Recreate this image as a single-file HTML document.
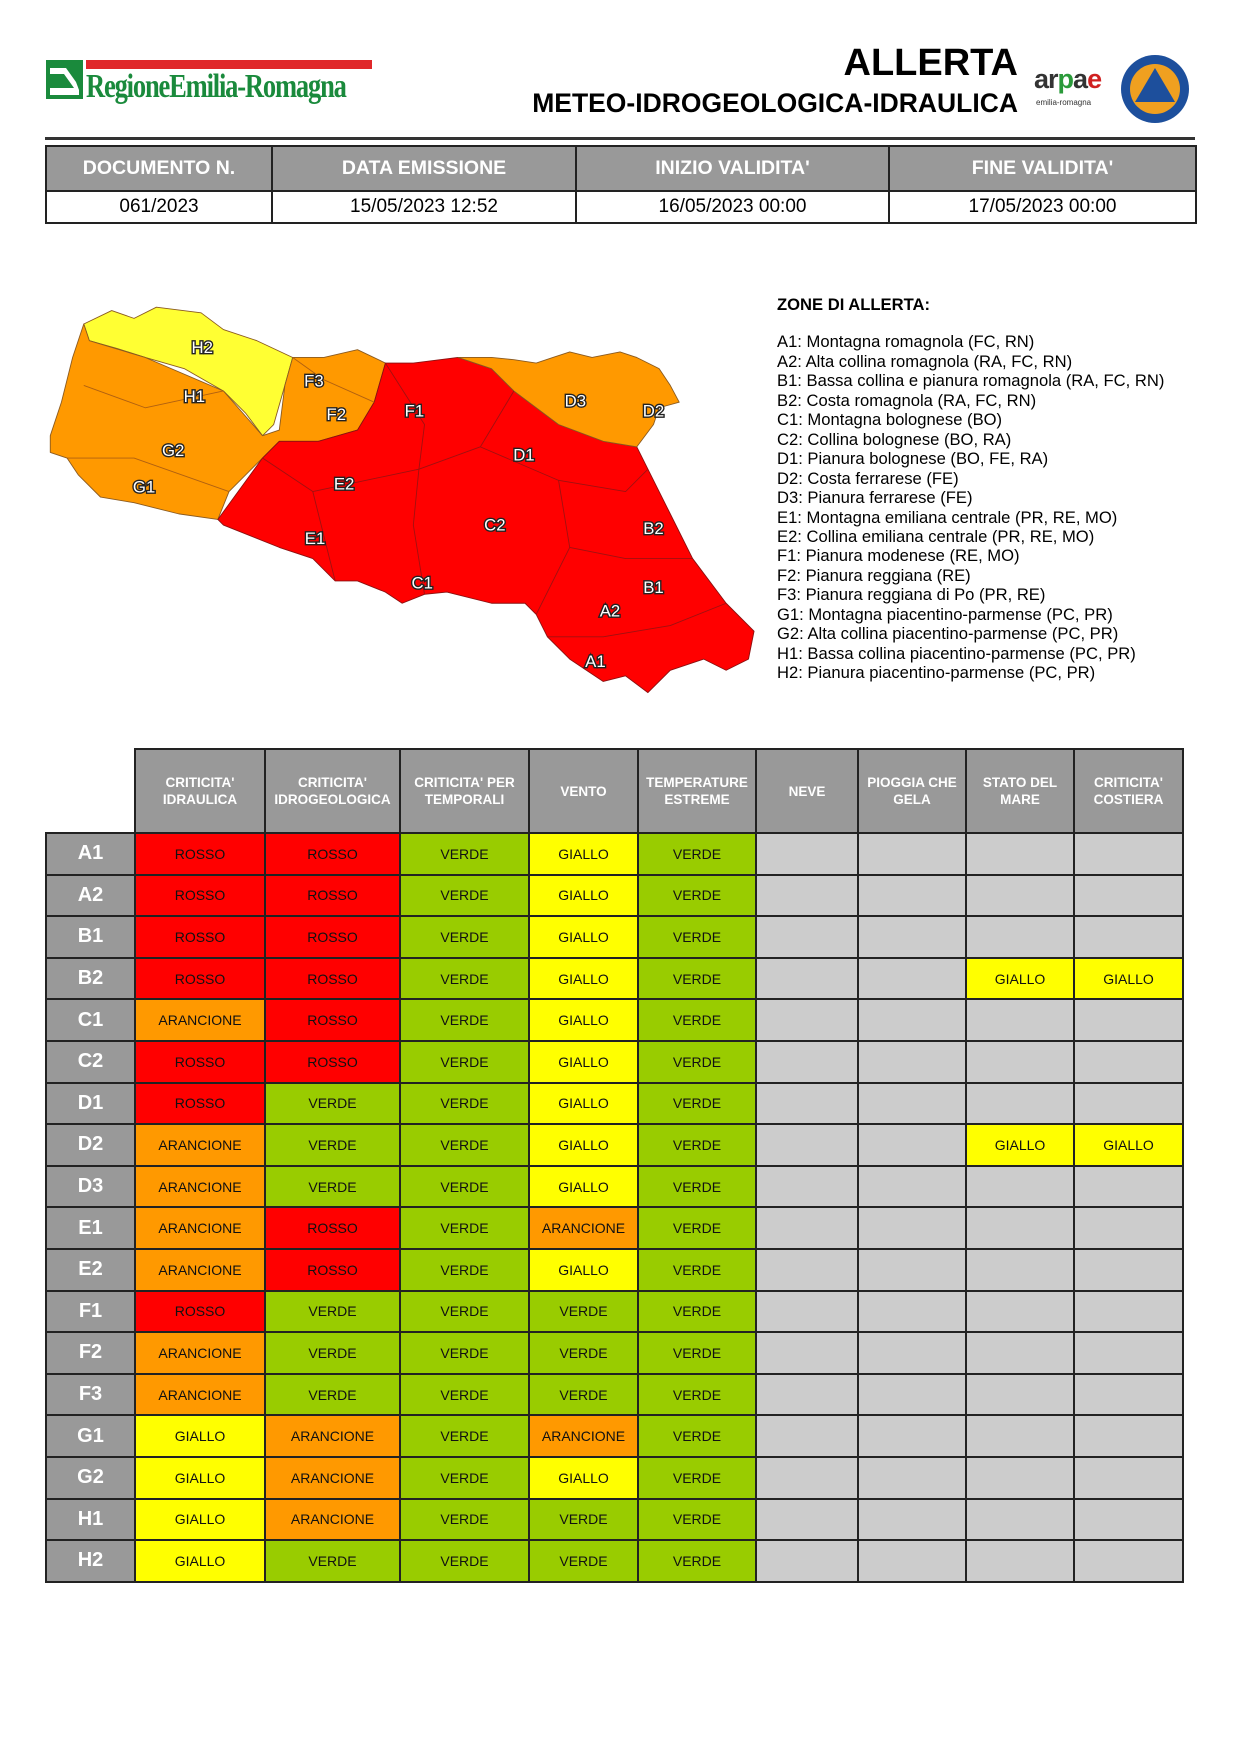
<!DOCTYPE html>
<html><head><meta charset="utf-8">
<style>
*{margin:0;padding:0;box-sizing:border-box}
body{width:1240px;height:1755px;background:#fff;position:relative;font-family:"Liberation Sans",Arial,sans-serif;overflow:hidden}
.abs{position:absolute}
table{border-collapse:collapse;table-layout:fixed}
#ht{left:45px;top:145px;width:1150px}
#ht td{border:2px solid #222;text-align:center}
#ht .h td{background:#999;color:#fff;font-weight:bold;font-size:19.5px;height:45px}
#ht .d td{font-size:19px;height:32px;color:#000}
#mt{left:45px;top:748px;width:1137px}
#mt td{border:2px solid #222;text-align:center;font-size:14px;color:#111}
#mt tr.h td{background:#999;color:#fff;font-weight:bold;font-size:13.5px;height:84px;line-height:17px}
#mt tr.h td.e{background:#fff;border-left:none;border-top:none}
#mt tr.r td{height:41.6px}
#mt td.l{background:#999;color:#fff;font-weight:bold;font-size:20px}
.R{background:#ff0000}.O{background:#ff9900}.V{background:#99cc00}.G{background:#ffff00}.X{background:#ccc}
#zones{left:777px;top:295px;font-size:16.6px;line-height:19.45px;color:#000}
</style></head><body>
<!-- logo -->
<div class="abs" style="left:46px;top:60px;width:37px;height:39px;background:#1a8a3c"></div>
<svg class="abs" style="left:46px;top:60px" width="37" height="39"><path d="M4 8 L20 8 L30 22 L33 30 L33 35 L4 35 Z" fill="#fff"/><path d="M4 14 L18 14 L28 28 L4 28Z" fill="#1a8a3c"/></svg>
<div class="abs" style="left:86px;top:60px;width:286px;height:9px;background:#e0282a"></div>
<div class="abs" style="left:86px;top:68px;font-family:'Liberation Serif',serif;font-size:34px;font-weight:bold;color:#1a8a3c;letter-spacing:-1.5px;transform:scaleX(0.78);transform-origin:left;white-space:nowrap">RegioneEmilia-Romagna</div>
<!-- title -->
<div class="abs" style="right:222px;top:42px;font-size:38px;font-weight:bold;color:#000">ALLERTA</div>
<div class="abs" style="right:222px;top:88px;font-size:26.5px;font-weight:bold;color:#000">METEO-IDROGEOLOGICA-IDRAULICA</div>
<div class="abs" style="left:1034px;top:64px;font-size:27px;font-weight:bold;color:#333;letter-spacing:-1px">ar<span style="color:#2a9a3a">p</span>a<span style="color:#d02020">e</span></div>
<div class="abs" style="left:1036px;top:98px;font-size:8px;color:#333">emilia-romagna</div>
<svg class="abs" style="left:1120px;top:54px" width="70" height="70"><circle cx="35" cy="35" r="34" fill="#1d4f9c"/><circle cx="35" cy="35" r="25" fill="#f0a020"/><polygon points="35,14 55,48 15,48" fill="#1d4f9c"/></svg>
<div class="abs" style="left:45px;top:137px;width:1150px;height:3px;background:#333"></div>
<table id="ht" class="abs">
<colgroup><col style="width:226px"><col style="width:304px"><col style="width:313px"><col style="width:307px"></colgroup>
<tr class="h"><td>DOCUMENTO N.</td><td>DATA EMISSIONE</td><td>INIZIO VALIDITA'</td><td>FINE VALIDITA'</td></tr>
<tr class="d"><td>061/2023</td><td>15/05/2023 12:52</td><td>16/05/2023 00:00</td><td>17/05/2023 00:00</td></tr>
</table>
<!-- map -->
<svg class="abs" style="left:0;top:0" width="1240" height="1755" viewBox="0 0 1110 1571">
<g stroke="#8a5a20" stroke-width="0.8" stroke-linejoin="round">
<polygon fill="#ffff33" points="75,290 100,278 120,285 140,275 180,280 200,295 230,305 262,320 255,345 245,380 235,390 220,370 200,350 165,330 130,320 105,312 80,305"/>
<polygon fill="#ff9900" points="45,390 55,360 65,320 75,290 80,305 130,320 200,350 235,390 250,385 255,345 262,320 290,320 320,313 345,325 335,360 320,385 285,395 250,395 235,410 205,440 195,465 160,460 120,450 90,445 70,425 60,410 45,405"/>
<polygon fill="#ff0000" stroke="#8a1010" points="195,465 235,410 250,395 285,395 320,385 335,360 345,325 370,325 410,320 440,330 460,350 500,380 540,395 570,400 580,420 600,460 620,500 650,540 675,565 670,590 650,600 630,590 600,600 580,620 560,605 540,610 510,590 490,570 480,550 470,540 440,540 400,530 380,532 360,540 345,530 320,520 300,520 280,500 250,490 225,480 200,470"/>
<polygon fill="#ff9900" points="410,320 440,330 460,350 500,380 540,395 570,400 585,380 590,365 608,360 600,345 590,330 570,320 555,315 530,320 510,315 495,320 480,325 460,322 440,320"/>
<polyline fill="none" stroke="#a01010" points="345,325 380,380 375,420 370,470 380,532"/>
<polyline fill="none" stroke="#a01010" points="375,420 430,400 460,350"/>
<polyline fill="none" stroke="#a01010" points="430,400 500,430 560,440 580,420"/>
<polyline fill="none" stroke="#a01010" points="500,430 510,490 560,500 620,500"/>
<polyline fill="none" stroke="#a01010" points="510,490 480,550"/>
<polyline fill="none" stroke="#a01010" points="490,570 540,570 600,560 650,540"/>
<polyline fill="none" stroke="#a01010" points="235,410 280,440 300,520"/>
<polyline fill="none" stroke="#a01010" points="280,440 375,420"/>
<polyline fill="none" stroke="#b06010" points="75,345 130,365 200,350"/>
<polyline fill="none" stroke="#b06010" points="60,410 120,410 205,440"/>
<polyline fill="none" stroke="#b06010" points="262,320 290,340 335,360"/>
</g>
<g font-family="Liberation Sans,Arial,sans-serif" font-size="15" fill="#fff" stroke="#222" stroke-width="2.5" paint-order="stroke" text-anchor="middle">
<text x="181" y="316">H2</text><text x="174" y="360">H1</text><text x="155" y="408">G2</text><text x="129" y="441">G1</text>
<text x="281" y="346">F3</text><text x="301" y="376">F2</text><text x="371" y="373">F1</text><text x="308" y="438">E2</text>
<text x="282" y="487">E1</text><text x="378" y="527">C1</text><text x="443" y="475">C2</text><text x="469" y="412">D1</text>
<text x="515" y="364">D3</text><text x="585" y="373">D2</text><text x="585" y="478">B2</text><text x="585" y="531">B1</text>
<text x="546" y="552">A2</text><text x="533" y="597">A1</text>
</g>
</svg>
<div id="zones" class="abs">
<div style="font-weight:bold;margin-bottom:18px">ZONE DI ALLERTA:</div>
<div>A1: Montagna romagnola (FC, RN)</div>
<div>A2: Alta collina romagnola (RA, FC, RN)</div>
<div>B1: Bassa collina e pianura romagnola (RA, FC, RN)</div>
<div>B2: Costa romagnola (RA, FC, RN)</div>
<div>C1: Montagna bolognese (BO)</div>
<div>C2: Collina bolognese (BO, RA)</div>
<div>D1: Pianura bolognese (BO, FE, RA)</div>
<div>D2: Costa ferrarese (FE)</div>
<div>D3: Pianura ferrarese (FE)</div>
<div>E1: Montagna emiliana centrale (PR, RE, MO)</div>
<div>E2: Collina emiliana centrale (PR, RE, MO)</div>
<div>F1: Pianura modenese (RE, MO)</div>
<div>F2: Pianura reggiana (RE)</div>
<div>F3: Pianura reggiana di Po (PR, RE)</div>
<div>G1: Montagna piacentino-parmense (PC, PR)</div>
<div>G2: Alta collina piacentino-parmense (PC, PR)</div>
<div>H1: Bassa collina piacentino-parmense (PC, PR)</div>
<div>H2: Pianura piacentino-parmense (PC, PR)</div>
</div>
<table id="mt" class="abs">
<colgroup><col style="width:89px"><col style="width:130px"><col style="width:135px"><col style="width:129px"><col style="width:109px"><col style="width:118px"><col style="width:102px"><col style="width:108px"><col style="width:108px"><col style="width:109px"></colgroup>
<tr class="h"><td class="e"></td><td>CRITICITA'<br>IDRAULICA</td><td>CRITICITA'<br>IDROGEOLOGICA</td><td>CRITICITA' PER<br>TEMPORALI</td><td>VENTO</td><td>TEMPERATURE<br>ESTREME</td><td>NEVE</td><td>PIOGGIA CHE<br>GELA</td><td>STATO DEL<br>MARE</td><td>CRITICITA'<br>COSTIERA</td></tr>
<tr class="r"><td class="l">A1</td><td class="R">ROSSO</td><td class="R">ROSSO</td><td class="V">VERDE</td><td class="G">GIALLO</td><td class="V">VERDE</td><td class="X"></td><td class="X"></td><td class="X"></td><td class="X"></td></tr>
<tr class="r"><td class="l">A2</td><td class="R">ROSSO</td><td class="R">ROSSO</td><td class="V">VERDE</td><td class="G">GIALLO</td><td class="V">VERDE</td><td class="X"></td><td class="X"></td><td class="X"></td><td class="X"></td></tr>
<tr class="r"><td class="l">B1</td><td class="R">ROSSO</td><td class="R">ROSSO</td><td class="V">VERDE</td><td class="G">GIALLO</td><td class="V">VERDE</td><td class="X"></td><td class="X"></td><td class="X"></td><td class="X"></td></tr>
<tr class="r"><td class="l">B2</td><td class="R">ROSSO</td><td class="R">ROSSO</td><td class="V">VERDE</td><td class="G">GIALLO</td><td class="V">VERDE</td><td class="X"></td><td class="X"></td><td class="G">GIALLO</td><td class="G">GIALLO</td></tr>
<tr class="r"><td class="l">C1</td><td class="O">ARANCIONE</td><td class="R">ROSSO</td><td class="V">VERDE</td><td class="G">GIALLO</td><td class="V">VERDE</td><td class="X"></td><td class="X"></td><td class="X"></td><td class="X"></td></tr>
<tr class="r"><td class="l">C2</td><td class="R">ROSSO</td><td class="R">ROSSO</td><td class="V">VERDE</td><td class="G">GIALLO</td><td class="V">VERDE</td><td class="X"></td><td class="X"></td><td class="X"></td><td class="X"></td></tr>
<tr class="r"><td class="l">D1</td><td class="R">ROSSO</td><td class="V">VERDE</td><td class="V">VERDE</td><td class="G">GIALLO</td><td class="V">VERDE</td><td class="X"></td><td class="X"></td><td class="X"></td><td class="X"></td></tr>
<tr class="r"><td class="l">D2</td><td class="O">ARANCIONE</td><td class="V">VERDE</td><td class="V">VERDE</td><td class="G">GIALLO</td><td class="V">VERDE</td><td class="X"></td><td class="X"></td><td class="G">GIALLO</td><td class="G">GIALLO</td></tr>
<tr class="r"><td class="l">D3</td><td class="O">ARANCIONE</td><td class="V">VERDE</td><td class="V">VERDE</td><td class="G">GIALLO</td><td class="V">VERDE</td><td class="X"></td><td class="X"></td><td class="X"></td><td class="X"></td></tr>
<tr class="r"><td class="l">E1</td><td class="O">ARANCIONE</td><td class="R">ROSSO</td><td class="V">VERDE</td><td class="O">ARANCIONE</td><td class="V">VERDE</td><td class="X"></td><td class="X"></td><td class="X"></td><td class="X"></td></tr>
<tr class="r"><td class="l">E2</td><td class="O">ARANCIONE</td><td class="R">ROSSO</td><td class="V">VERDE</td><td class="G">GIALLO</td><td class="V">VERDE</td><td class="X"></td><td class="X"></td><td class="X"></td><td class="X"></td></tr>
<tr class="r"><td class="l">F1</td><td class="R">ROSSO</td><td class="V">VERDE</td><td class="V">VERDE</td><td class="V">VERDE</td><td class="V">VERDE</td><td class="X"></td><td class="X"></td><td class="X"></td><td class="X"></td></tr>
<tr class="r"><td class="l">F2</td><td class="O">ARANCIONE</td><td class="V">VERDE</td><td class="V">VERDE</td><td class="V">VERDE</td><td class="V">VERDE</td><td class="X"></td><td class="X"></td><td class="X"></td><td class="X"></td></tr>
<tr class="r"><td class="l">F3</td><td class="O">ARANCIONE</td><td class="V">VERDE</td><td class="V">VERDE</td><td class="V">VERDE</td><td class="V">VERDE</td><td class="X"></td><td class="X"></td><td class="X"></td><td class="X"></td></tr>
<tr class="r"><td class="l">G1</td><td class="G">GIALLO</td><td class="O">ARANCIONE</td><td class="V">VERDE</td><td class="O">ARANCIONE</td><td class="V">VERDE</td><td class="X"></td><td class="X"></td><td class="X"></td><td class="X"></td></tr>
<tr class="r"><td class="l">G2</td><td class="G">GIALLO</td><td class="O">ARANCIONE</td><td class="V">VERDE</td><td class="G">GIALLO</td><td class="V">VERDE</td><td class="X"></td><td class="X"></td><td class="X"></td><td class="X"></td></tr>
<tr class="r"><td class="l">H1</td><td class="G">GIALLO</td><td class="O">ARANCIONE</td><td class="V">VERDE</td><td class="V">VERDE</td><td class="V">VERDE</td><td class="X"></td><td class="X"></td><td class="X"></td><td class="X"></td></tr>
<tr class="r"><td class="l">H2</td><td class="G">GIALLO</td><td class="V">VERDE</td><td class="V">VERDE</td><td class="V">VERDE</td><td class="V">VERDE</td><td class="X"></td><td class="X"></td><td class="X"></td><td class="X"></td></tr>
</table>
</body></html>
